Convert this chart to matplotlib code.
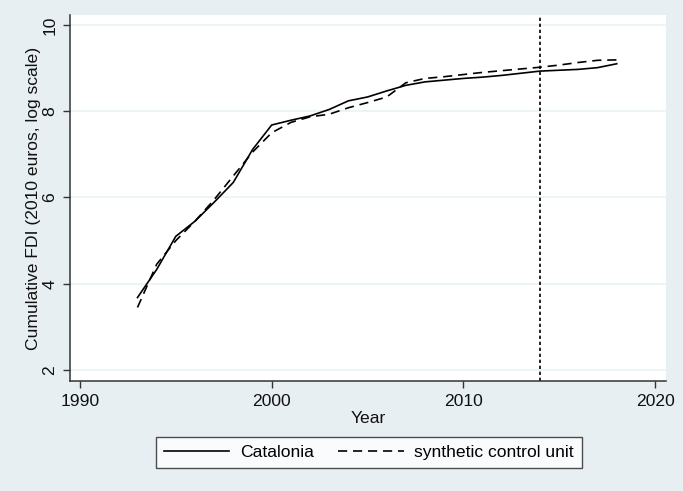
import matplotlib
matplotlib.use("Agg")
import matplotlib.pyplot as plt
import numpy as np

plt.rcParams["font.family"] = ["Liberation Sans", "DejaVu Sans"]

# data
years = np.arange(1993, 2019)
catalonia = [3.68, 4.33, 5.10, 5.45, 5.89, 6.35, 7.11, 7.68, 7.79, 7.89,
             8.04, 8.24, 8.33, 8.47, 8.60, 8.68, 8.72, 8.76, 8.79, 8.83,
             8.88, 8.93, 8.95, 8.97, 9.01, 9.10]
synthetic = [3.45, 4.45, 5.00, 5.45, 5.95, 6.50, 7.05, 7.50, 7.74, 7.87,
             7.93, 8.08, 8.20, 8.33, 8.66, 8.76, 8.80, 8.85, 8.90, 8.94,
             8.98, 9.02, 9.07, 9.13, 9.18, 9.19]
treat_year = 2014
xticks = [1990, 2000, 2010, 2020]
yticks = [2, 4, 6, 8, 10]

BG = "#e8eff2"
GRID = "#eaf2f3"
AXC = "#333333"
FS = 12.6

fig = plt.figure(figsize=(6.83, 4.91), dpi=100, facecolor=BG)
ax = fig.add_axes([0.1025, 0.224, 0.8726, 0.7454])
ax.set_facecolor("white")

#Grid lines
for yv in yticks:
    ax.axhline(yv, color=GRID, linewidth=1.2, zorder=0)

#Series
ax.plot(years, catalonia, color="black", linewidth=1.2, label="Catalonia")
ax.plot(years, synthetic, color="black", linewidth=1.2,
        linestyle=(0, (5.5, 3.5)), label="synthetic control unit")

#Treatment year
ax.axvline(treat_year, color="black", linewidth=1.2, linestyle=(0, (2, 1.6)))

ax.set_xlim(1989.48, 2020.57)
ax.set_ylim(1.745, 10.23)
ax.set_xticks(xticks)
ax.set_yticks(yticks)
ax.set_yticklabels([str(v) for v in yticks], rotation=90, va="center")
ax.tick_params(axis="both", direction="out", length=5, width=1,
               color=AXC, labelsize=FS, labelcolor="#111111", pad=4)

for side in ["top", "right"]:
    ax.spines[side].set_visible(False)
for side in ["left", "bottom"]:
    ax.spines[side].set_color(AXC)
    ax.spines[side].set_linewidth(1.1)

ax.set_xlabel("Year", fontsize=FS, labelpad=2, color="#111111")
ax.set_ylabel("Cumulative FDI (2010 euros, log scale)", fontsize=FS,
              labelpad=1, color="#111111")

#Legend below plot
leg = fig.legend(loc="center", bbox_to_anchor=(0.540, 0.079), ncol=2,
                 fontsize=FS, frameon=True, fancybox=False,
                 handlelength=3.75, columnspacing=1.4, handletextpad=0.6,
                 borderpad=0.45, borderaxespad=0)
leg.get_frame().set_edgecolor("#222222")
leg.get_frame().set_linewidth(1.0)
leg.get_frame().set_facecolor("white")

fig.savefig("out.png", dpi=100, facecolor=BG)
